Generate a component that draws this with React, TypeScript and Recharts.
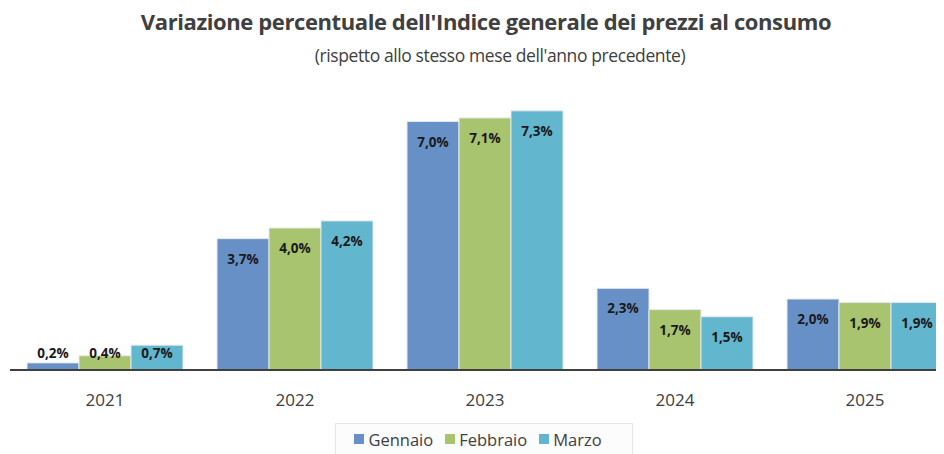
import { BarChart, Bar, XAxis, YAxis, LabelList } from 'recharts';

const anni = ['2021', '2022', '2023', '2024', '2025'];
const gennaio = [0.2, 3.7, 7.0, 2.3, 2.0];
const febbraio = [0.4, 4.0, 7.1, 1.7, 1.9];
const marzo = [0.7, 4.2, 7.3, 1.5, 1.9];

const serie = [
  { key: 'gennaio', name: 'Gennaio', color: '#6690C6' },
  { key: 'febbraio', name: 'Febbraio', color: '#A8C46E' },
  { key: 'marzo', name: 'Marzo', color: '#62B6CD' },
];

const data = anni.map((anno, i) => ({
  anno,
  gennaio: gennaio[i],
  febbraio: febbraio[i],
  marzo: marzo[i],
}));

const FONT = '"Open Sans", Calibri, sans-serif';

function fmt(v: number) {
  return v.toFixed(1).replace('.', ',') + '%';
}

// label inside the top of the bar, but never lower than just above the axis
function BarLabel(props: any) {
  const { x, y, width, height, value } = props;
  const bottom = y + height;
  const cy = Math.min(y + 20, bottom - 17);
  return (
    <text
      x={x + width / 2}
      y={cy}
      textAnchor="middle"
      dominantBaseline="central"
      fontFamily={FONT}
      fontSize={13.5}
      fontWeight={700}
      fill="#1a1a1a"
    >
      {fmt(value)}
    </text>
  );
}

function LegendBox() {
  return (
    <div
      style={{
        position: 'absolute',
        left: 335,
        top: 423,
        width: 298,
        height: 31,
        border: '1px solid #e6e6e6',
        borderBottom: 'none',
        background: '#fcfcfc',
        display: 'flex',
        justifyContent: 'center',
        alignItems: 'center',
        boxSizing: 'border-box',
        fontFamily: FONT,
        fontSize: 16.5,
        color: '#404040',
      }}
    >
      {serie.map((s) => (
        <span key={s.key} style={{ display: 'flex', alignItems: 'center', marginRight: 12 }}>
          <span style={{ width: 10, height: 10, background: s.color, marginRight: 4, display: 'inline-block' }} />
          {s.name}
        </span>
      ))}
    </div>
  );
}

export default function App() {
  return (
    <div
      style={{
        margin: '-8px -8px 0 -8px',
        width: 944,
        height: 454,
        overflow: 'hidden',
        position: 'relative',
        background: '#fff',
      }}
    >
      <div
        style={{
          position: 'absolute',
          left: 28,
          width: 916,
          top: 6,
          textAlign: 'center',
          fontFamily: FONT,
          fontWeight: 700,
          fontSize: 22,
          color: '#404040',
          letterSpacing: -0.4,
        }}
      >
        Variazione percentuale dell'Indice generale dei prezzi al consumo
      </div>
      <div
        style={{
          position: 'absolute',
          left: 56,
          width: 888,
          top: 43,
          textAlign: 'center',
          fontFamily: FONT,
          fontSize: 17.5,
          color: '#404040',
          letterSpacing: -0.4,
        }}
      >
        (rispetto allo stesso mese dell'anno precedente)
      </div>
      <div style={{ position: 'absolute', left: 0, top: 0 }}>
        <BarChart
          width={960}
          height={454}
          data={data}
          margin={{ top: 86, right: 0, left: 10, bottom: 50 }}
          barCategoryGap={17}
          barGap={0}
        >
          <YAxis hide domain={[0, 8]} />
          <XAxis
            dataKey="anno"
            tickLine={false}
            axisLine={{ stroke: '#404040', strokeWidth: 2 }}
            tick={{ fontFamily: FONT, fontSize: 17, fill: '#404040' }}
            tickMargin={18}
            height={34}
          />
          {serie.map((s) => (
            <Bar
              key={s.key}
              dataKey={s.key}
              name={s.name}
              fill={s.color}
              stroke="#e4e8ee"
              strokeWidth={1}
              isAnimationActive={false}
            >
              <LabelList dataKey={s.key} content={<BarLabel />} />
            </Bar>
          ))}
        </BarChart>
      </div>
      <LegendBox />
    </div>
  );
}
